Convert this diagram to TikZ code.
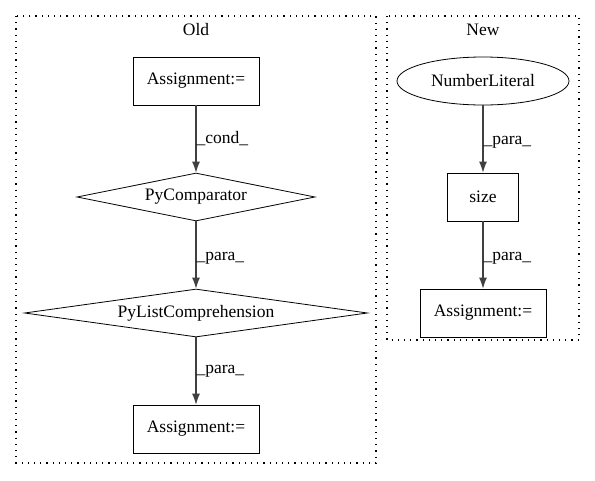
\documentclass[tikz,border=0pt]{standalone}
\usepackage{fontspec}
\setmainfont{Liberation Serif}
\usetikzlibrary{shapes.geometric, arrows.meta}

\begin{document}
\begin{tikzpicture}[
    x=1pt, y=-1pt,
    font=\fontsize{17.5}{20}\selectfont,
    % Node Styles
    stmt/.style={rectangle, draw=black, thick, inner sep=0pt, minimum width=126pt, minimum height=48pt},
    cmp/.style={diamond, draw=black, thick, inner sep=0pt, aspect=5, minimum height=48pt},
    lit/.style={ellipse, draw=black, thick, inner sep=0pt, minimum width=172pt, minimum height=48pt},
    % Edge Styles
    flow/.style={-{Latex[length=11pt, width=8pt]}, draw=black!75, line width=1.1pt},
    elabel/.style={anchor=west, inner sep=0pt, text=black},
    cluster/.style={draw=black, line width=1.2pt, dash pattern=on 1.2pt off 5pt}
]
\useasboundingbox (0,0) rectangle (595,480);

% Clusters
\draw[cluster] (16,16) rectangle (376,463);
\node (old) at (196,30) {Old};
\draw[cluster] (387,16) rectangle (579,340);
\node (new) at (483,30) {New};

% Old side
\node[stmt] (a1) at (196,81) {Assignment:=};
\node[cmp, minimum width=238pt] (pc) at (196,197) {PyComparator};
\node[cmp, minimum width=343pt] (plc) at (196,313) {PyListComprehension};
\node[stmt] (a2) at (196,429) {Assignment:=};

\draw[flow] (a1) -- (pc) node[elabel, pos=0.5] {\_cond\_};
\draw[flow] (pc) -- (plc) node[elabel, pos=0.55] {\_para\_};
\draw[flow] (plc) -- (a2) node[elabel, pos=0.5] {\_para\_};

% New side
\node[lit] (nl) at (483,81) {NumberLiteral};
\node[stmt, minimum width=71pt] (sz) at (483,197) {size};
\node[stmt] (a3) at (483,313) {Assignment:=};

\draw[flow] (nl) -- (sz) node[elabel, pos=0.55] {\_para\_};
\draw[flow] (sz) -- (a3) node[elabel, pos=0.55] {\_para\_};

\end{tikzpicture}
\end{document}
